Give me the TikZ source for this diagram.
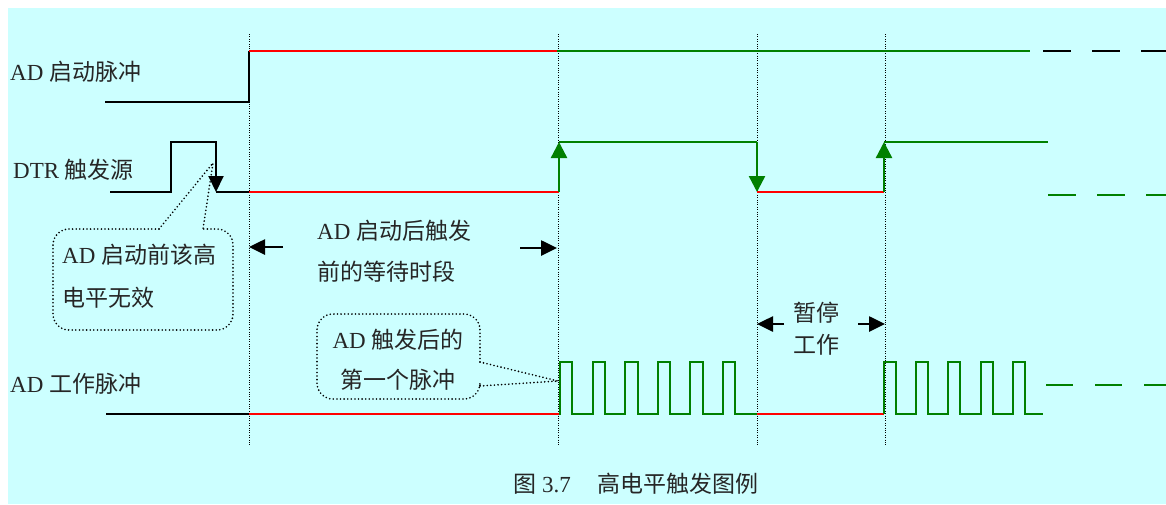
\documentclass[tikz,border=0pt]{standalone}
\usepackage{fontspec}
\setmainfont{Liberation Serif}
\newfontfamily\cjk{Noto Sans CJK SC}
\usetikzlibrary{arrows.meta}
\definecolor{bgc}{RGB}{204,255,255}
\definecolor{sgreen}{RGB}{0,128,0}
\definecolor{sred}{RGB}{255,0,0}
\tikzset{
  lbl/.style={inner sep=0pt, font=\fontsize{23}{27}\selectfont, text=black!85},
  sig/.style={line width=2pt},
  guide/.style={line width=0.9pt, dash pattern=on 1pt off 1.4pt},
  bubble/.style={line width=1.8pt, dash pattern=on 0pt off 3.6pt, line cap=round},
  blkarrow/.style={line width=2.6pt, -{Triangle[length=16pt,width=15pt]}},
  grnarrow/.style={sgreen, line width=2.4pt, -{Triangle[length=16pt,width=16pt]}},
  dashsig/.style={line width=2pt, dash pattern=on 27pt off 21pt}
}
\begin{document}
\begin{tikzpicture}[x=1pt,y=-1pt]
\useasboundingbox (0,0) rectangle (1166,504);
\fill[bgc] (8,8) rectangle (1166,504);

% guide lines
\foreach \gx/\gn in {249/g1,558/g2,757/g3,885/g4}{
  \coordinate (\gn top) at (\gx,34);
  \coordinate (\gn bot) at (\gx,445);
  \draw[guide] (\gn top) -- (\gn bot);
}

% labels
\node[lbl, anchor=west] (lstart) at (10,72) {AD {\cjk 启动脉冲}};
\node[lbl, anchor=west] (ldtr) at (13,170) {DTR {\cjk 触发源}};
\node[lbl, anchor=west] (lwork) at (10,384) {AD {\cjk 工作脉冲}};

% AD start pulse
\coordinate (s0) at (105,102);
\coordinate (s1) at (249,102);
\coordinate (s2) at (249,51);
\coordinate (s3) at (557,51);
\coordinate (s4) at (1030,51);
\draw[sig] (s0) -- (s1) -- (s2);
\draw[sig, sred] (s2) -- (s3);
\draw[sig, sgreen] (s3) -- (s4);
\draw[sig, dash pattern=on 28pt off 21pt] (1043,51) -- (1166,51);

% DTR trigger
\coordinate (d0) at (110,192);
\coordinate (d1) at (171,192);
\coordinate (d2) at (171,142);
\coordinate (d3) at (216,142);
\coordinate (d4) at (216,192);
\coordinate (d5) at (249,192);
\coordinate (d6) at (559,192);
\coordinate (d7) at (559,142);
\coordinate (d8) at (757,142);
\coordinate (d9) at (757,192);
\coordinate (d10) at (884,192);
\coordinate (d11) at (884,142);
\coordinate (d12) at (1048,142);
\draw[sig] (d0) -- (d1) -- (d2) -- (d3) -- (216,150);
\draw[blkarrow, line width=2pt] (d3) -- (d4);
\draw[sig] (d4) -- (d5);
\draw[sig, sred] (d5) -- (d6);
\draw[grnarrow] (d6) -- (d7);
\draw[sig, sgreen] (d7) -- (d8);
\draw[grnarrow] (d8) -- (d9);
\draw[sig, sred] (d9) -- (d10);
\draw[grnarrow] (d10) -- (d11);
\draw[sig, sgreen] (d11) -- (d12);
\draw[sig, sgreen, dash pattern=on 28pt off 21pt] (1048,195) -- (1166,195);

% AD work pulses
\coordinate (w0) at (106,414);
\coordinate (w1) at (249,414);
\coordinate (w2) at (559,414);
\coordinate (w3) at (757,414);
\coordinate (w4) at (884,414);
\draw[sig] (w0) -- (w1);
\draw[sig, sred] (w1) -- (w2);
\draw[sig, sgreen] (w2)
  \foreach \r in {559.5,592.5,625,657.5,690,722.5}{
    -- (\r,414) -- (\r,362) -- (\r+12.5,362) -- (\r+12.5,414)
  } -- (w3);
\draw[sig, sred] (w3) -- (w4);
\draw[sig, sgreen] (w4)
  \foreach \r in {884,916,948,980.5,1013}{
    -- (\r,414) -- (\r,362) -- (\r+12,362) -- (\r+12,414)
  } -- (1043,414);
\draw[sig, sgreen, dash pattern=on 27pt off 22pt] (1046,385) -- (1166,385);

% waiting period annotation
\node[lbl, anchor=west] (wait1) at (317,231) {AD {\cjk 启动后触发}};
\node[lbl, anchor=west] (wait2) at (317,272) {\cjk 前的等待时段};
\coordinate (wa0) at (283,247);
\coordinate (wa1) at (249,247);
\coordinate (wb0) at (520,248);
\coordinate (wb1) at (557,248);
\draw[blkarrow] (wa0) -- (wa1);
\draw[blkarrow] (wb0) -- (wb1);

% pause annotation
\node[lbl] (pause1) at (816,313) {\cjk 暂停};
\node[lbl] (pause2) at (816,345) {\cjk 工作};
\coordinate (pa0) at (784,324);
\coordinate (pa1) at (757,324);
\coordinate (pb0) at (858,324);
\coordinate (pb1) at (885,324);
\draw[blkarrow] (pa0) -- (pa1);
\draw[blkarrow] (pb0) -- (pb1);

% callout 1
\coordinate (c1tip) at (213,163);
\draw[bubble, rounded corners=16pt] (159,229) -- (53,229) -- (53,330) -- (233,330) -- (233,229) -- (203,229);
\draw[bubble] (159,229) -- (c1tip) -- (203,229);
\node[lbl, anchor=west] (c1a) at (62,255) {AD {\cjk 启动前该高}};
\node[lbl, anchor=west] (c1b) at (62,298) {\cjk 电平无效};

% callout 2
\coordinate (c2tip) at (558,381);
\draw[bubble, rounded corners=16pt] (480,362) -- (480,314) -- (317,314) -- (317,399) -- (480,399) -- (480,386);
\draw[bubble] (480,362) -- (c2tip) -- (480,386);
\node[lbl] (c2a) at (398,340) {AD {\cjk 触发后的}};
\node[lbl] (c2b) at (398,380) {\cjk 第一个脉冲};

% caption
\node[lbl] (cap) at (636,484) {{\cjk 图} 3.7\hspace{27pt}{\cjk 高电平触发图例}};
\end{tikzpicture}
\end{document}
